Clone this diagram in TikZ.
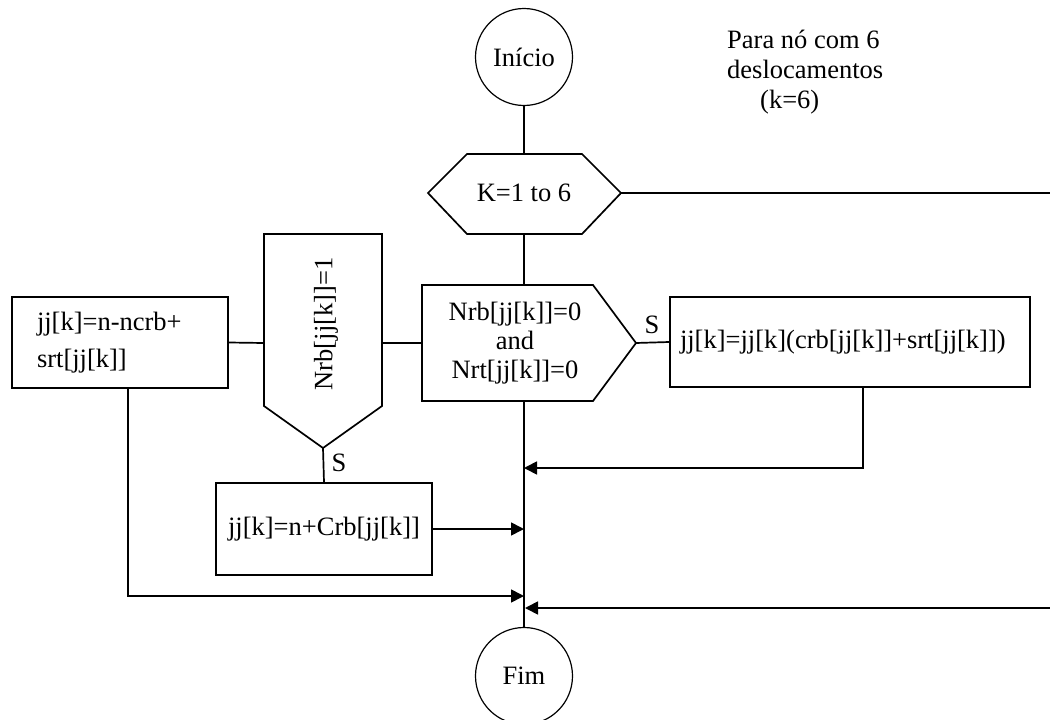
\documentclass[tikz,border=0pt]{standalone}
\usepackage{fontspec}
\setmainfont{Liberation Serif}
\usetikzlibrary{arrows.meta}
\begin{document}
\begin{tikzpicture}[x=1pt,y=-1pt,
  every node/.style={font=\fontsize{26.5}{30}\selectfont},
  line/.style={line width=1.7pt},
  shp/.style={draw,line width=1.7pt,line join=miter},
  box/.style={draw,line width=1.7pt,inner sep=0pt},
  term/.style={draw,circle,line width=1.2pt,minimum size=97pt,inner sep=0pt},
  arr/.style={line width=1.7pt,-{Triangle[length=13pt,width=13pt]}},
  lbl/.style={inner sep=0pt}]
\useasboundingbox (0,0) rectangle (1050,720);

% terminals
\node[term] (ini) at (524,57) {Início};
\node[term] (fim) at (524,676) {Fim};

% note
\node[lbl,align=left,anchor=west] (note) at (727,72) {Para nó com 6\\deslocamentos\\\hspace*{33pt}(k=6)};

% loop hexagon
\coordinate (hexT) at (524,154);
\coordinate (hexB) at (524,234);
\coordinate (hexR) at (621,193);
\draw[shp] (428,193) -- (467,154) -- (582,154) -- (hexR) -- (582,234) -- (467,234) -- cycle;
\node[lbl] (hex) at (524,193) {K=1 to 6};

% decision pentagon
\coordinate (decT) at (524,285);
\coordinate (decB) at (524,401);
\coordinate (decL) at (422,343);
\coordinate (decP) at (636,343);
\draw[shp] (422,285) -- (593,285) -- (decP) -- (593,401) -- (422,401) -- cycle;
\node[lbl,align=center,font=\fontsize{26.5}{29}\selectfont] (dec) at (515,343) {Nrb[jj[k]]=0\\and\\Nrt[jj[k]]=0};

% Nrb shape
\coordinate (nrbL) at (264,343);
\coordinate (nrbR) at (382,343);
\coordinate (nrbP) at (323,448);
\draw[shp] (264,234) -- (382,234) -- (382,406) -- (nrbP) -- (264,406) -- cycle;
\node[lbl,rotate=90] (nrb) at (326,324) {Nrb[jj[k]]=1};

% boxes
\node[box,text width=340pt,inner xsep=10pt,minimum height=90pt,align=left] (rbox) at (850,342) {jj[k]=jj[k](crb[jj[k]]+srt[jj[k]])};
\node[box,text width=166pt,inner xsep=25pt,minimum height=91pt,align=left,font=\fontsize{26.5}{37}\selectfont] (lbox) at (120,342.5) {jj[k]=n-ncrb+\\srt[jj[k]]};
\node[box,minimum width=216pt,minimum height=92pt] (lowbox) at (324,529) {jj[k]=n+Crb[jj[k]]};

% labels
\node[lbl] (s1) at (652,325) {S};
\node[lbl] (s2) at (339,463) {S};

% connectors
\coordinate (rOut) at (1050,193);
\coordinate (rIn) at (1050,608);
\coordinate (rboxB) at (863,387);
\coordinate (lboxB) at (128,388);
\draw[line] (ini.south) -- (hexT);
\draw[line] (hexR) -- (rOut);
\draw[line] (hexB) -- (decT);
\draw[line] (decP) -- (rbox.west);
\draw[line] (decB) -- (fim.north);
\draw[line] (decL) -- (nrbR);
\draw[line] (nrbL) -- (lbox.east);
\draw[line] (nrbP) -- (lowbox.north);
\draw[arr] (rboxB) -- (863,468) -- (524,468);
\draw[arr] (lowbox.east) -- (524,529);
\draw[arr] (lboxB) -- (128,596) -- (524,596);
\draw[arr] (rIn) -- (525,608);
\end{tikzpicture}
\end{document}
